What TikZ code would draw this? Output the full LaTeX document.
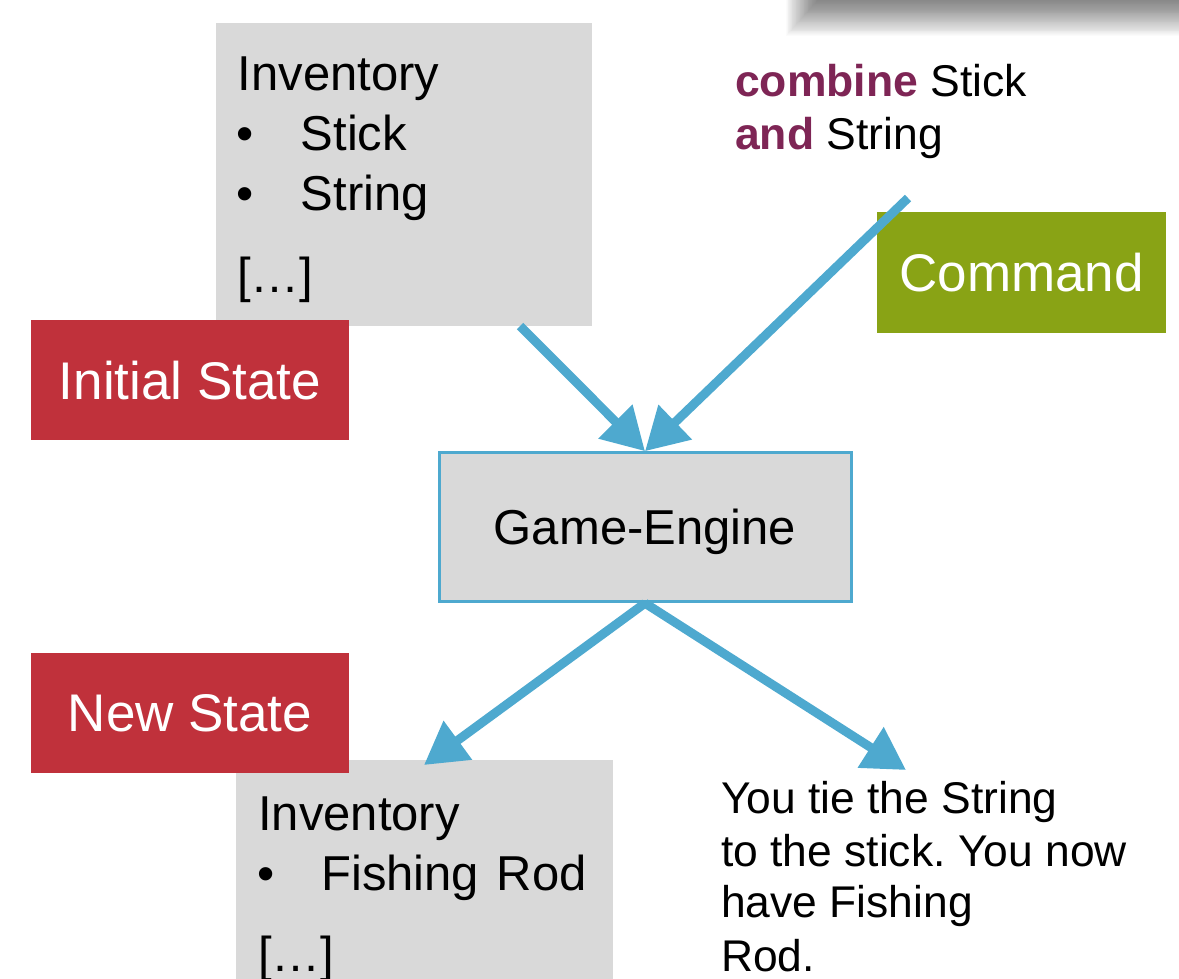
\documentclass[tikz,border=0pt]{standalone}
\usepackage{fontspec}
\setmainfont{Liberation Sans}
\usetikzlibrary{arrows.meta}
\definecolor{boxgray}{HTML}{D9D9D9}
\definecolor{statered}{HTML}{C0313B}
\definecolor{cmdgreen}{HTML}{89A315}
\definecolor{kwpurple}{HTML}{7E2555}
\definecolor{arrowblue}{HTML}{4EA9CF}
\begin{document}
\frenchspacing
\begin{tikzpicture}[x=1pt,y=-1pt,
  graybox/.style={fill=boxgray, draw=none, inner sep=0pt},
  labelbox/.style={text=white, inner sep=0pt, minimum height=120pt,
    text height=38pt, text depth=0pt, font=\fontsize{53}{60}\selectfont},
  invtxt/.style={anchor=base west, inner sep=0pt, font=\fontsize{49}{58}\selectfont},
  bodytxt/.style={anchor=base west, inner sep=0pt, font=\fontsize{44.4}{53}\selectfont},
  cmdtxt/.style={anchor=base west, inner sep=0pt, font=\fontsize{44.5}{53}\selectfont},
  enginebox/.style={fill=boxgray, draw=arrowblue, line width=3pt, inner sep=0pt,
    minimum width=412pt, minimum height=149pt, text height=35pt, text depth=0pt,
    font=\fontsize{49}{58}\selectfont},
  flow/.style={draw=arrowblue, line width=9pt, -{Triangle[length=42pt,width=46pt]}}
]
\useasboundingbox (0,0) rectangle (1179,979);
% soft shadow of an element above the picture (top right)
\foreach \i in {1,...,40}
  \fill[black,opacity=0.015] (818-0.8*\i,0) rectangle (1179,0.9*\i);

% inventory boxes
\node[graybox, minimum width=376pt, minimum height=303pt] (inv1) at (404,174.5) {};
\node[graybox, minimum width=377pt, minimum height=219pt] (inv2) at (424.5,869.5) {};

% texts of the first inventory
\node[invtxt] (i1a) at (237.5,91) {Inventory};
\node[invtxt] (i1b) at (236,151) {•};
\node[invtxt] (i1c) at (300.5,151) {Stick};
\node[invtxt] (i1d) at (236,211) {•};
\node[invtxt] (i1e) at (300.5,211) {String};
\node[invtxt] (i1f) at (237,292) {[…]};

% texts of the second inventory
\node[invtxt] (i2a) at (258,830) {Inventory};
\node[invtxt] (i2b) at (257.5,890) {•};
\node[invtxt] (i2c) at (321,890) {Fishing\hspace{4pt} Rod};
\node[invtxt] (i2d) at (258,971) {[…]};

% state labels
\node[labelbox, fill=statered, minimum width=318pt] (init) at (190,380) {Initial State};
\node[labelbox, fill=statered, minimum width=318pt] (new) at (190,712.5) {New State};
\node[labelbox, fill=cmdgreen, minimum width=289pt] (cmd) at (1021.7,272.5) {Command};

% command text
\node[cmdtxt] (c1) at (735,97) {\textcolor{kwpurple}{\textbf{combine}} Stick};
\node[cmdtxt] (c2) at (735,150) {\textcolor{kwpurple}{\textbf{and}} String};

% engine
\node[enginebox] (engine) at (645,527.2) {Game-Engine};

% result text
\node[bodytxt] (r1) at (721,813) {You tie the String};
\node[bodytxt] (r2) at (721,866.5) {to the stick. You now};
\node[bodytxt] (r3) at (721,917) {have Fishing};
\node[bodytxt] (r4) at (721,971.5) {Rod.};

% connectors
\coordinate (s1) at (520,326);
\coordinate (s2) at (908,198);
\coordinate (t1) at (424,765);
\coordinate (t2) at (906,770);
\draw[flow] (s1) -- (engine.north);
\draw[flow] (s2) -- (engine.north);
\draw[flow] (engine.south) -- (t1);
\draw[flow] (engine.south) -- (t2);
\end{tikzpicture}
\end{document}
